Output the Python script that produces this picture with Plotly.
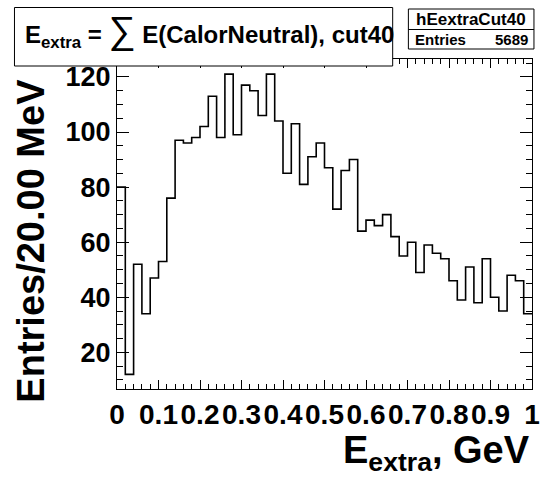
import plotly.graph_objects as go

# ---- data ----
bin_width = 0.02
counts = [80, 12, 52, 34, 47, 53, 76, 97, 96, 98,
          102, 113, 98, 121, 99, 117, 115, 106, 121, 104,
          85, 103, 81, 91, 96, 87, 72, 86, 90, 64,
          68, 66, 70, 62, 55, 60, 49, 59, 56, 54,
          46, 39, 51, 38, 54, 40, 35, 48, 46, 34]
hist_name = "hEextraCut40"
entries = 5689
x_ticks = [0, 0.1, 0.2, 0.3, 0.4, 0.5, 0.6, 0.7, 0.8, 0.9, 1.0]
x_ticktext = ["0", "0.1", "0.2", "0.3", "0.4", "0.5", "0.6", "0.7", "0.8", "0.9", "1"]
y_ticks = [20, 40, 60, 80, 100, 120]

edges = [round(i * bin_width, 4) for i in range(len(counts) + 1)]
xs = edges[:]
ys = counts + [counts[-1]]

W, H = 543, 478
L, R, T, B = 117, 3, 59, 89
PW, PH = W - L - R, H - T - B

def px(X):
    return (X - L) / PW

def py(Y):
    return (H - B - Y) / PH

FONT = "Liberation Sans, Arial, Helvetica, sans-serif"

fig = go.Figure()
fig.add_trace(go.Scatter(x=xs, y=ys, mode="lines", line=dict(shape="hv", color="black", width=1.6),
                         hoverinfo="skip", showlegend=False))

fig.update_layout(
    width=W, height=H,
    margin=dict(l=L, r=R, t=T, b=B, pad=0),
    paper_bgcolor="white", plot_bgcolor="white",
    showlegend=False,
    xaxis=dict(range=[0, 1], tickvals=x_ticks, ticktext=x_ticktext,
               ticks="inside", ticklen=9, tickwidth=1, tickcolor="black",
               minor=dict(dtick=0.02, tick0=0, ticks="inside", ticklen=5, tickcolor="black", tickwidth=1),
               showline=True, linecolor="black", linewidth=1, mirror="ticks",
               showgrid=False, zeroline=False, ticklabeloverflow="allow",
               tickfont=dict(family=FONT, size=28, color="black", weight="bold")),
    yaxis=dict(range=[6.7, 126.5], tickvals=y_ticks,
               ticks="inside", ticklen=12, tickwidth=1, tickcolor="black",
               minor=dict(dtick=5, tick0=0, ticks="inside", ticklen=6, tickcolor="black", tickwidth=1),
               showline=True, linecolor="black", linewidth=1, mirror="ticks",
               showgrid=False, zeroline=False, ticklabeloverflow="allow",
               tickfont=dict(family=FONT, size=27, color="black", weight="bold")),
)

# title box
fig.add_shape(type="rect", xref="paper", yref="paper",
              x0=px(12.5), x1=px(398), y0=py(66), y1=py(7.5),
              line=dict(color="black", width=1), fillcolor="white", layer="above")
fig.add_annotation(xref="paper", yref="paper", x=px(21), y=py(31), xanchor="left", yanchor="middle",
                   showarrow=False,
                   text="E<sub>extra</sub> = <span style='font-size:38px;font-weight:normal'>∑</span> E(CalorNeutral), cut40",
                   font=dict(family=FONT, size=24, color="black", weight="bold"))

# stats box
sx0, sx1, sy0, sy1, sym = 414, 542, 9, 49, 29.5
fig.add_shape(type="rect", xref="paper", yref="paper",
              x0=px(sx0), x1=px(sx1), y0=py(sy1), y1=py(sy0),
              line=dict(color="black", width=1), fillcolor="white", layer="above")
fig.add_shape(type="line", xref="paper", yref="paper",
              x0=px(sx0), x1=px(sx1), y0=py(sym), y1=py(sym),
              line=dict(color="black", width=1), layer="above")
fig.add_annotation(xref="paper", yref="paper", x=px((sx0 + sx1) / 2), y=py((sy0 + sym) / 2),
                   xanchor="center", yanchor="middle", showarrow=False, text=hist_name,
                   font=dict(family=FONT, size=17, color="black", weight="bold"))
fig.add_annotation(xref="paper", yref="paper", x=px(sx0 + 5), y=py((sym + sy1) / 2),
                   xanchor="left", yanchor="middle", showarrow=False, text="Entries",
                   font=dict(family=FONT, size=15, color="black", weight="bold"))
fig.add_annotation(xref="paper", yref="paper", x=px(sx1 - 4), y=py((sym + sy1) / 2),
                   xanchor="right", yanchor="middle", showarrow=False, text=str(entries),
                   font=dict(family=FONT, size=15, color="black", weight="bold"))

# axis titles
fig.add_annotation(xref="paper", yref="paper", x=px(29), y=py(241), xanchor="center", yanchor="middle",
                   showarrow=False, textangle=-90, text="Entries/20.00 MeV",
                   font=dict(family=FONT, size=38, color="black", weight="bold"))
fig.add_annotation(xref="paper", yref="paper", x=px(540), y=py(453), xanchor="right", yanchor="middle",
                   showarrow=False, text="E<sub>extra</sub>, GeV",
                   font=dict(family=FONT, size=38, color="black", weight="bold"))

fig.write_html("out.html")
